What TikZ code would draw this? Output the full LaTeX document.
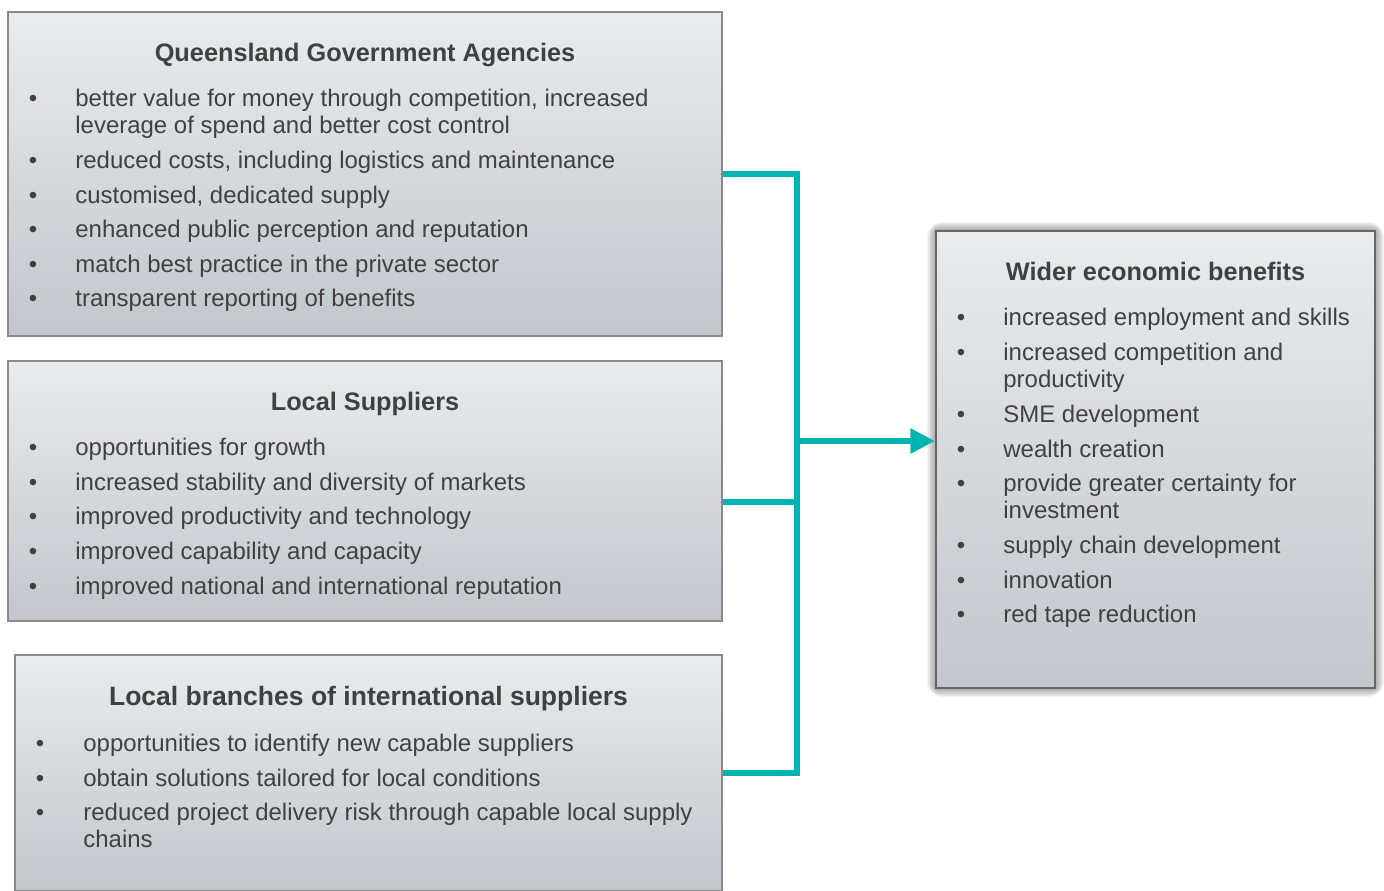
\documentclass[tikz,border=0pt]{standalone}
\usepackage{fontspec}
\setmainfont{Liberation Sans}
\usetikzlibrary{arrows.meta}
\definecolor{linkteal}{HTML}{00B4B4}
\definecolor{txt}{HTML}{404040}
\definecolor{paneltop}{HTML}{E9EBED}
\definecolor{panelbot}{HTML}{C3C6CB}
\definecolor{panelline}{HTML}{8A8A8A}
\newcommand{\twoln}[2]{\begin{tabular}[t]{@{}l@{}}#1\\#2\end{tabular}}
\begin{document}
\begin{tikzpicture}[x=0.02cm, y=-0.02cm,
    panel/.style={draw=panelline, line width=0.8pt, top color=paneltop, bottom color=panelbot, inner sep=0pt},
    head/.style={anchor=base, text=txt, inner sep=0pt, font=\fontsize{14.4pt}{17pt}\selectfont\bfseries},
    item/.style={anchor=base west, text=txt, inner sep=0pt, font=\fontsize{13.65pt}{15.6pt}\selectfont},
    dot/.style={anchor=base, text=txt, inner sep=0pt, font=\fontsize{13.65pt}{15.6pt}\selectfont},
    link/.style={draw=linkteal, line width=3.4pt}]

    \useasboundingbox (0,0) rectangle (1384,890);

    % boxes
    \node[panel, minimum width=14.28cm, minimum height=6.48cm] at (365,174) (qga) {};
    \node[panel, minimum width=14.28cm, minimum height=5.2cm] at (365,491) (sup) {};
    \node[panel, minimum width=14.14cm, minimum height=4.72cm] at (368.5,773) (intl) {};
    \foreach \s in {1,...,9}
        \fill[black, fill opacity=0.045, rounded corners=\s pt] (936-\s,231-\s) rectangle (1375+\s,688+\s);
    \node[panel, draw=black!60, line width=1.2pt, minimum width=8.78cm, minimum height=9.14cm] at (1155.5,459.5) (wider) {};

    % connectors
    \coordinate (jtop) at (797,174);
    \coordinate (jsup) at (797,502);
    \coordinate (jmid) at (797,441);
    \draw[link] (qga.east) -- (jtop) -- (jtop |- intl.east) -- (intl.east);
    \draw[link] (jsup) -- (jsup -| sup.east);
    \draw[link, -{Triangle[length=14pt, width=13.6pt]}] (jmid) -- (jmid -| wider.west);

    % Queensland Government Agencies
    \node[head] at (365,61) (qgahead) {Queensland Government Agencies};
    \node[dot] at (33,106) (qgad1) {\textbullet};
    \node[item] at (75,106) (qgai1) {\twoln{better value for money through competition, increased}{leverage of spend and better cost control}};
    \node[dot] at (33,168) (qgad2) {\textbullet};
    \node[item] at (75,168) (qgai2) {reduced costs, including logistics and maintenance};
    \node[dot] at (33,203) (qgad3) {\textbullet};
    \node[item] at (75,203) (qgai3) {customised, dedicated supply};
    \node[dot] at (33,237) (qgad4) {\textbullet};
    \node[item] at (75,237) (qgai4) {enhanced public perception and reputation};
    \node[dot] at (33,272) (qgad5) {\textbullet};
    \node[item] at (75,272) (qgai5) {match best practice in the private sector};
    \node[dot] at (33,306) (qgad6) {\textbullet};
    \node[item] at (75,306) (qgai6) {transparent reporting of benefits};

    % Local Suppliers
    \node[head] at (365,410) (suphead) {Local Suppliers};
    \node[dot] at (33,455) (supd1) {\textbullet};
    \node[item] at (75,455) (supi1) {opportunities for growth};
    \node[dot] at (33,490) (supd2) {\textbullet};
    \node[item] at (75,490) (supi2) {increased stability and diversity of markets};
    \node[dot] at (33,524) (supd3) {\textbullet};
    \node[item] at (75,524) (supi3) {improved productivity and technology};
    \node[dot] at (33,559) (supd4) {\textbullet};
    \node[item] at (75,559) (supi4) {improved capability and capacity};
    \node[dot] at (33,594) (supd5) {\textbullet};
    \node[item] at (75,594) (supi5) {improved national and international reputation};

    % Local branches of international suppliers
    \node[head, font=\fontsize{15.1pt}{18pt}\selectfont\bfseries] at (368.5,705) (intlhead) {Local branches of international suppliers};
    \node[dot] at (40,751) (intld1) {\textbullet};
    \node[item] at (83,751) (intli1) {opportunities to identify new capable suppliers};
    \node[dot] at (40,786) (intld2) {\textbullet};
    \node[item] at (83,786) (intli2) {obtain solutions tailored for local conditions};
    \node[dot] at (40,820) (intld3) {\textbullet};
    \node[item] at (83,820) (intli3) {\twoln{reduced project delivery risk through capable local supply}{chains}};

    % Wider economic benefits
    \node[head] at (1155.5,280) (widerhead) {Wider economic benefits};
    \node[dot] at (961,325) (widerd1) {\textbullet};
    \node[item] at (1003,325) (wideri1) {increased employment and skills};
    \node[dot] at (961,360) (widerd2) {\textbullet};
    \node[item] at (1003,360) (wideri2) {\twoln{increased competition and}{productivity}};
    \node[dot] at (961,422) (widerd3) {\textbullet};
    \node[item] at (1003,422) (wideri3) {SME development};
    \node[dot] at (961,457) (widerd4) {\textbullet};
    \node[item] at (1003,457) (wideri4) {wealth creation};
    \node[dot] at (961,491) (widerd5) {\textbullet};
    \node[item] at (1003,491) (wideri5) {\twoln{provide greater certainty for}{investment}};
    \node[dot] at (961,553) (widerd6) {\textbullet};
    \node[item] at (1003,553) (wideri6) {supply chain development};
    \node[dot] at (961,588) (widerd7) {\textbullet};
    \node[item] at (1003,588) (wideri7) {innovation};
    \node[dot] at (961,622) (widerd8) {\textbullet};
    \node[item] at (1003,622) (wideri8) {red tape reduction};
\end{tikzpicture}
\end{document}
